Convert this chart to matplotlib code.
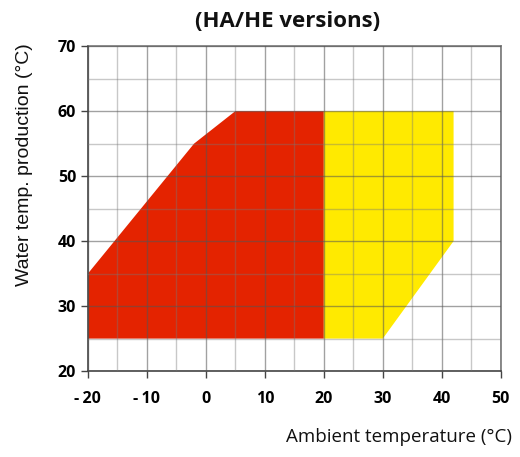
import matplotlib.pyplot as plt
import numpy as np

# DATA
red_x = [-20, -20, -2, 5, 20, 20]
red_y = [25, 35, 55, 60, 60, 25]
yellow_x = [20, 20, 42, 42, 30]
yellow_y = [25, 60, 60, 40, 25]
x_ticks = [-20, -10, 0, 10, 20, 30, 40, 50]
y_ticks = [20, 30, 40, 50, 60, 70]

plt.rcParams['font.family'] = ['Open Sans', 'DejaVu Sans']
plt.rcParams['axes.unicode_minus'] = False

fig = plt.figure(figsize=(5.2, 4.57), dpi=100)
ax = fig.add_axes([0.169, 0.188, 0.794, 0.711])

ax.fill(red_x, red_y, color='#E42300', linewidth=0, zorder=1)
ax.fill(yellow_x, yellow_y, color='#FFEA00', linewidth=0, zorder=1)

ax.set_xlim(-20, 50)
ax.set_ylim(20, 70)
ax.set_xticks(x_ticks)
ax.set_xticklabels([str(v).replace('-', '-\u2009') for v in x_ticks])
ax.set_yticks(y_ticks)
ax.set_xticks(np.arange(-15, 50, 10), minor=True)
ax.set_yticks(np.arange(25, 70, 10), minor=True)

ax.grid(True, which='major', color='#555555', alpha=0.55, linewidth=1, zorder=2)
ax.grid(True, which='minor', color='#777777', alpha=0.4, linewidth=1, zorder=2)
ax.set_axisbelow(False)

ax.tick_params(axis='both', which='major', direction='out', length=5, width=1,
               color='#444444', labelsize=11.5)
ax.tick_params(axis='both', which='minor', length=0)
for lbl in ax.get_xticklabels() + ax.get_yticklabels():
    lbl.set_fontweight('bold')
ax.tick_params(axis='x', pad=9)

for side in ['left', 'bottom']:
    ax.spines[side].set_color('#444444')
    ax.spines[side].set_linewidth(1.2)
for side in ['top', 'right']:
    ax.spines[side].set_color('#777777')
    ax.spines[side].set_linewidth(1.2)

fig.text(0.048, 0.64, 'Water temp. production (°C)', rotation=90, ha='center', va='center',
         fontsize=14, color='#111111', family='Liberation Sans')
fig.text(0.985, 0.025, 'Ambient temperature (°C)', ha='right', va='bottom',
         fontsize=13.5, color='#111111')
fig.text(0.553, 0.93, '(HA/HE versions)', ha='center', va='bottom',
         fontsize=16, fontweight='bold', color='#111111')

plt.savefig('out.png', dpi=100)
